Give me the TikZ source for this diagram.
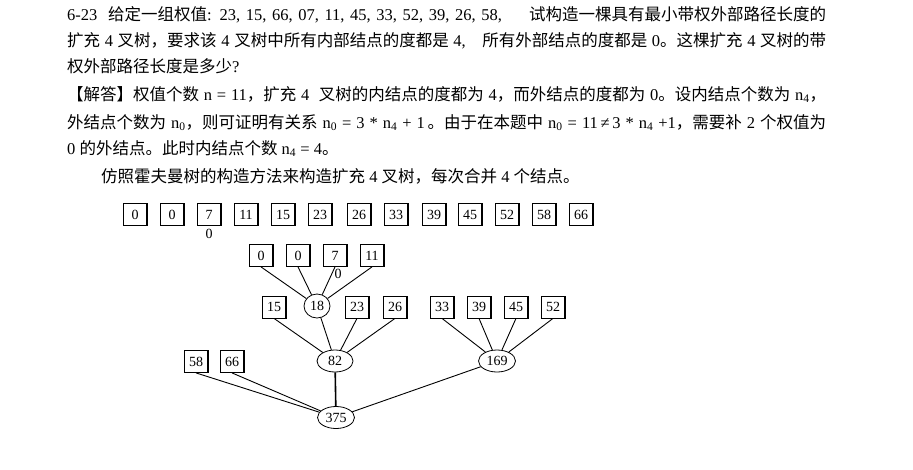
\documentclass[tikz,border=0pt]{standalone}
\usepackage{fontspec}
\setmainfont{Liberation Serif}
\newfontfamily\cjk{Noto Sans CJK SC}
\usetikzlibrary{shapes.geometric}
\XeTeXlinebreaklocale "zh"
\XeTeXlinebreakskip=0pt plus 1pt
\newcommand{\zh}[1]{{\cjk #1}}
\newcommand{\fullline}[1]{\makebox[759pt][s]{#1}}
\tikzset{
  txt/.style={anchor=base west,inner sep=0pt,font=\fontsize{16.5}{20}\selectfont},
  lab/.style={inner sep=0pt,font=\fontsize{14}{14}\selectfont},
  wbox/.style={draw,rectangle,inner sep=0pt,minimum width=24pt,minimum height=22pt,
    line width=0.8pt,font=\fontsize{14}{14}\selectfont,
    path picture={\draw[line width=1.6pt] (path picture bounding box.north east) -- (path picture bounding box.south east);}},
  wnode/.style={draw,ellipse,inner sep=0pt,minimum width=36pt,minimum height=22pt,
    line width=0.8pt,font=\fontsize{14}{14}\selectfont},
  link/.style={line width=0.9pt},
}
\begin{document}
\begin{tikzpicture}[x=1pt,y=-1pt]
  \useasboundingbox (0,0) rectangle (913,469);
  % question and answer text
  \node[txt] (l1) at (67,20) {\fullline{6-23\ \ \zh{给定一组权值}: 23, 15, 66, 07, 11, 45, 33, 52, 39, 26, 58,\quad\ \ \zh{试构造一棵具有最小带权外部路径长度的}}};
  \node[txt] (l2) at (67,46) {\fullline{\zh{扩充} 4 \zh{叉树，要求该} 4 \zh{叉树中所有内部结点的度都是} 4,\quad \zh{所有外部结点的度都是} 0\zh{。这棵扩充} 4 \zh{叉树的带}}};
  \node[txt] (l3) at (67,72) {\zh{权外部路径长度是多少}?};
  \node[txt] (l4) at (67,100) {\fullline{\zh{【解答】权值个数} n = 11\zh{，扩充} 4\ \ \zh{叉树的内结点的度都为} 4\zh{，而外结点的度都为} 0\zh{。设内结点个数为} n\textsubscript{4}\zh{，}}};
  \node[txt] (l5) at (67,128) {\fullline{\zh{外结点个数为} n\textsubscript{0}\zh{，则可证明有关系} n\textsubscript{0} = 3 * n\textsubscript{4} + 1\,\zh{。由于在本题中} n\textsubscript{0} = 11\,≠\,3 * n\textsubscript{4} +1\zh{，需要补} 2 \zh{个权值为}}};
  \node[txt] (l6) at (67,154) {0 \zh{的外结点。此时内结点个数} n\textsubscript{4} = 4\zh{。}};
  \node[txt] (l7) at (101,182) {\zh{仿照霍夫曼树的构造方法来构造扩充} 4 \zh{叉树，每次合并} 4 \zh{个结点。}};
  % the sorted weights
  \foreach \i/\x/\v in {1/135/0,2/172/0,3/209/7,4/246/11,5/283/15,6/320/23,7/359/26,
                        8/396/33,9/434/39,10/470/45,11/507/52,12/544/58,13/581/66}
    \node[wbox] (w\i) at (\x,214.5) {\v};
  \node[lab] (z1) at (209,234) {0};
  % first merge
  \node[wbox] (a1) at (261,255.5) {0};
  \node[wbox] (a2) at (298,255.5) {0};
  \node[wbox] (a3) at (335,255.5) {7};
  \node[wbox] (a4) at (372,255.5) {11};
  \node[lab] (z2) at (338,274) {0};
  \node[wnode,minimum width=26pt,minimum height=24pt] (i18) at (317,306) {18};
  \foreach \s in {a1,a2,a3,a4}
    \draw[link] (\s.south) -- (i18);
  % second and third merge
  \node[wbox] (b15) at (274,307) {15};
  \node[wbox] (b23) at (357,307) {23};
  \node[wbox] (b26) at (395,307) {26};
  \node[wbox] (b33) at (442,307) {33};
  \node[wbox] (b39) at (479,307) {39};
  \node[wbox] (b45) at (516,307) {45};
  \node[wbox] (b52) at (553,307) {52};
  \node[wnode] (i82) at (335,361) {82};
  \node[wnode,minimum width=37pt] (i169) at (497,361) {169};
  \draw[link] (b15.south) -- (i82);
  \draw[link] (i18) -- (i82);
  \draw[link] (b23.south) -- (i82);
  \draw[link] (b26.south) -- (i82);
  \foreach \s in {b33,b39,b45,b52}
    \draw[link] (\s.south) -- (i169);
  % root
  \node[wbox] (b58) at (196,361.5) {58};
  \node[wbox] (b66) at (232,361.5) {66};
  \node[wnode,minimum width=37pt] (i375) at (336,417.5) {375};
  \draw[link] (b58.south) -- (i375);
  \draw[link] (b66.south) -- (i375);
  \draw[link,line width=1.6pt] (i82) -- (i375);
  \draw[link] (i169) -- (i375);
\end{tikzpicture}
\end{document}
